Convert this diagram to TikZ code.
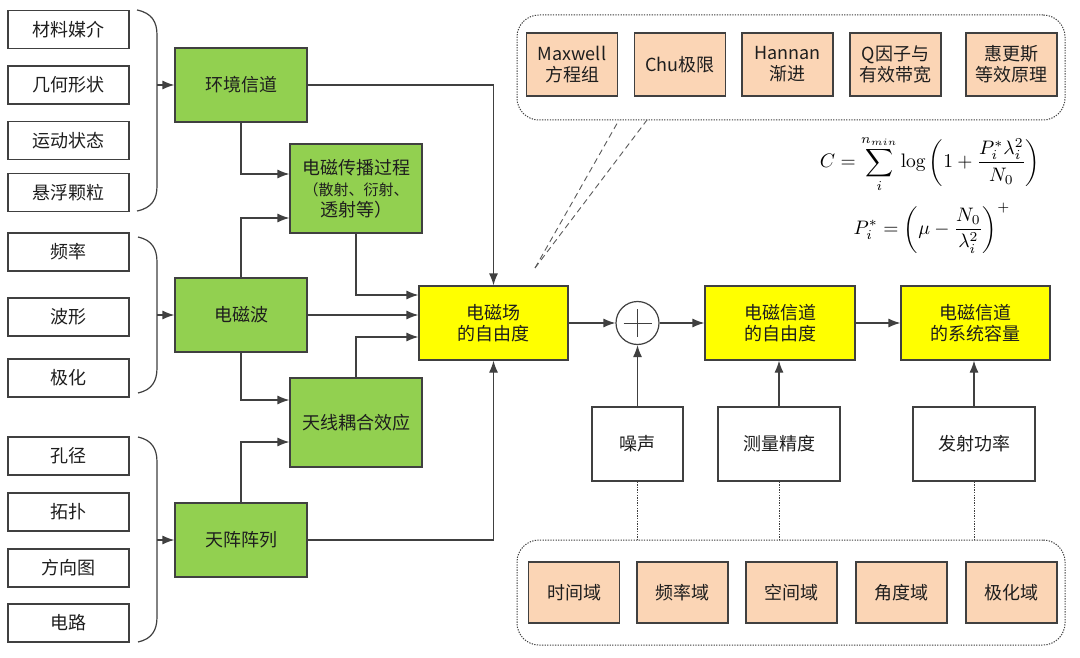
\documentclass[tikz,border=0pt]{standalone}
\usepackage{fontspec}
\usepackage{graphicx}
\usetikzlibrary{arrows.meta,calc}
\newfontfamily\cjk{Noto Sans CJK SC}
\definecolor{gfill}{RGB}{146,208,80}
\definecolor{yfill}{RGB}{255,255,0}
\definecolor{ofill}{RGB}{251,213,181}
\definecolor{bdr}{RGB}{64,64,64}
\definecolor{txt}{RGB}{30,30,30}
\definecolor{dsh}{RGB}{90,90,90}
\tikzset{
  bx/.style={draw=bdr, line width=1.2pt, inner sep=0pt, align=center, font=\cjk\fontsize{18}{21}\selectfont, text=txt},
  wbox/.style={bx, fill=white, minimum width=121pt, minimum height=38pt},
  gbox/.style={bx, fill=gfill, minimum width=132pt},
  ybox/.style={bx, fill=yfill, minimum height=74pt},
  obox/.style={bx, fill=ofill, minimum width=91pt},
  wbig/.style={bx, fill=white, minimum height=74pt},
  arr/.style={-{Latex[length=12pt,width=9pt]}, line width=1.2pt, draw=bdr},
  bracestyle/.style={line width=1.2pt, draw=bdr},
  dotline/.style={draw=bdr, line width=1pt, dash pattern=on 1.3pt off 1.3pt},
  dashline/.style={draw=dsh, line width=0.9pt, dash pattern=on 6pt off 4pt},
  container/.style={dotline, rounded corners=22pt, minimum width=548pt, minimum height=105pt, inner sep=0pt},
}
\begin{document}
\begin{tikzpicture}[x=1pt,y=-1pt]
\useasboundingbox[fill=white] (0,0) rectangle (1080,658);

% left white boxes
\node[wbox] (l1) at (68.5,29.5) {材料媒介};
\node[wbox] (l2) at (68.5,85) {几何形状};
\node[wbox] (l3) at (68.5,140.5) {运动状态};
\node[wbox] (l4) at (68.5,192.5) {悬浮颗粒};
\node[wbox] (l5) at (68.5,252) {频率};
\node[wbox] (l6) at (68.5,317) {波形};
\node[wbox] (l7) at (68.5,378) {极化};
\node[wbox] (l8) at (68.5,456) {孔径};
\node[wbox] (l9) at (68.5,512) {拓扑};
\node[wbox] (l10) at (68.5,568) {方向图};
\node[wbox] (l11) at (68.5,623) {电路};

% braces
\draw[bracestyle] (137,10) .. controls (152,13) and (157,22) .. (157,35) -- (157,186) .. controls (157,199) and (152,208) .. (137,211);
\draw[bracestyle] (138,237) .. controls (152,240) and (157,249) .. (157,262) -- (157,368) .. controls (157,381) and (152,390) .. (138,393);
\draw[bracestyle] (138,437) .. controls (152,440) and (157,449) .. (157,462) -- (157,617) .. controls (157,630) and (152,639) .. (138,642);
\coordinate (br1) at (157,85);
\coordinate (br2) at (157,315);
\coordinate (br3) at (157,540);

% green boxes
\node[gbox, minimum height=74pt] (env) at (241,85) {环境信道};
\node[gbox, minimum height=74pt] (wave) at (241,315) {电磁波};
\node[gbox, minimum height=74pt] (ant) at (241,540) {天阵阵列};
\node[gbox, minimum height=89pt] (prop) at (356,188.5) {电磁传播过程\\\fontsize{15}{20}\selectfont （散射、衍射、\\透射等）};
\node[gbox, minimum height=89pt] (coup) at (356,422.5) {天线耦合效应};

% yellow boxes
\node[ybox, minimum width=149pt] (y1) at (493.5,323) {电磁场\\的自由度};
\node[ybox, minimum width=150pt] (y2) at (780,323) {电磁信道\\的自由度};
\node[ybox, minimum width=149pt] (y3) at (975.5,323) {电磁信道\\的系统容量};
\node[circle, draw=bdr, line width=1.2pt, minimum size=43pt, inner sep=0pt, fill=white] (plus) at (637.5,323) {};
\draw[line width=1pt, bdr] ($(plus.center)+(-14,0)$) -- ($(plus.center)+(14,0)$);
\draw[line width=1pt, bdr] ($(plus.center)+(0,-14)$) -- ($(plus.center)+(0,14)$);

% white lower boxes
\node[wbig, minimum width=91pt] (noise) at (637.5,444) {噪声};
\node[wbig, minimum width=122pt] (meas) at (779,444) {测量精度};
\node[wbig, minimum width=122pt] (pow) at (974,444) {发射功率};

% containers
\node[container] (topc) at (791,67.5) {};
\node[container] (botc) at (791,592.5) {};

% top orange boxes
\node[obox, minimum height=63pt] (t1) at (572,64.5) {Maxwell\\方程组};
\node[obox, minimum height=63pt] (t2) at (680,64.5) {Chu极限};
\node[obox, minimum height=63pt] (t3) at (787.5,64.5) {Hannan\\渐进};
\node[obox, minimum height=63pt] (t4) at (895.5,64.5) {Q因子与\\有效带宽};
\node[obox, minimum height=63pt] (t5) at (1011.5,64.5) {惠更斯\\等效原理};

% bottom orange boxes
\node[obox, minimum height=61pt] (b1) at (574,592.5) {时间域};
\node[obox, minimum height=61pt] (b2) at (682.5,592.5) {频率域};
\node[obox, minimum height=61pt] (b3) at (791.5,592.5) {空间域};
\node[obox, minimum height=61pt] (b4) at (901.5,592.5) {角度域};
\node[obox, minimum height=61pt] (b5) at (1011.5,592.5) {极化域};

% formulas
\node[inner sep=0pt] (f1) at (930,164) {\scalebox{1.95}{$\displaystyle C=\sum_{i}^{n_{min}}\log\left(1+\frac{P_i^*\lambda_i^2}{N_0}\right)$}};
\node[inner sep=0pt] (f2) at (932,228) {\scalebox{1.95}{$\displaystyle P_i^*=\left(\mu-\frac{N_0}{\lambda_i^2}\right)^{+}$}};

% dashed lines
\coordinate (apex) at (535,268);
\coordinate (d1) at (619,120);
\coordinate (d2) at (647,120);
\draw[dashline] (apex) -- (d1);
\draw[dashline] (apex) -- (d2);

% connectors
\draw[arr] (br1) -- (env.west);
\draw[arr] (br2) -- (wave.west);
\draw[arr] (br3) -- (ant.west);
\draw[arr] (env.east) -| (y1.north);
\draw[arr] (env.south) |- (prop.west |- 0,174);
\draw[arr] (wave.north) |- (prop.west |- 0,218);
\draw[arr] (prop.south) |- (y1.west |- 0,295);
\draw[arr] (wave.east) -- (wave.east -| y1.west);
\draw[arr] (coup.north) |- (y1.west |- 0,337);
\draw[arr] (wave.south) |- (coup.west |- 0,400);
\draw[arr] (ant.north) |- (coup.west |- 0,442);
\draw[arr] (ant.east) -| (y1.south);
\draw[arr] (y1.east) -- (plus.west);
\draw[arr] (plus.east) -- (y2.west);
\draw[arr] (y2.east) -- (y3.west);
\draw[arr] (noise.north) -- (plus.south);
\draw[arr] (meas.north) -- (meas.north |- y2.south);
\draw[arr] (pow.north) -- (pow.north |- y3.south);

% dotted links
\draw[dotline] (noise.south) -- (noise.south |- botc.north);
\draw[dotline] (meas.south) -- (meas.south |- botc.north);
\draw[dotline] (pow.south) -- (pow.south |- botc.north);
\end{tikzpicture}
\end{document}
